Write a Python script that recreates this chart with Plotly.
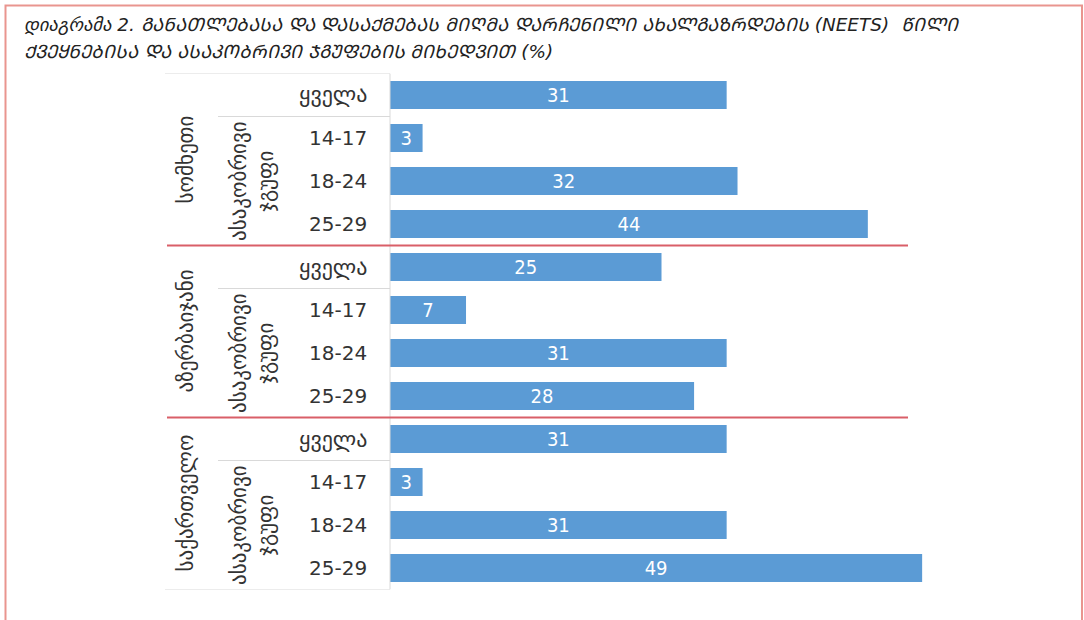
import plotly.graph_objects as go

countries = ["სომხეთი", "აზერბაიჯანი", "საქართველო"]
row_labels = ["ყველა", "14-17", "18-24", "25-29"]
age_group_label = "ასაკობრივი<br>ჯგუფი"
values_armenia = [31, 3, 32, 44]
values_azerbaijan = [25, 7, 31, 28]
values_georgia = [31, 3, 31, 49]
title_lines = ["დიაგრამა 2. ᲒᲐᲜᲐᲗᲚᲔᲑᲐᲡᲐ ᲓᲐ ᲓᲐᲡᲐᲥᲛᲔᲑᲐᲡ ᲛᲘᲦᲛᲐ ᲓᲐᲠᲩᲔᲜᲘᲚᲘ ᲐᲮᲐᲚᲒᲐᲖᲠᲓᲔᲑᲘᲡ (NEETS)  ᲬᲘᲚᲘ",
               "ᲥᲕᲔᲧᲜᲔᲑᲘᲡᲐ ᲓᲐ ᲐᲡᲐᲙᲝᲑᲠᲘᲕᲘ ᲯᲒᲣᲤᲔᲑᲘᲡ ᲛᲘᲮᲔᲓᲕᲘᲗ (%)"]

W, H = 1084, 620
all_values = values_armenia + values_azerbaijan + values_georgia
ypos = list(range(len(all_values)))

BLUE = "#5B9BD5"
RED = "#D95F68"
GREY = "#D9D9D9"
TXT = "#333333"
FONT = "DejaVu Sans"

def px(x):
    return x / W

def py(y):
    return 1 - y / H

fig = go.Figure()
fig.add_trace(go.Bar(
    x=all_values, y=ypos, orientation="h",
    marker=dict(color=BLUE, line=dict(width=0)),
    text=[str(v) for v in all_values],
    textposition="inside", insidetextanchor="middle", textangle=0,
    textfont=dict(color="white", size=20, family="DejaVu Sans Condensed, Roboto, sans-serif"),
    constraintext="none",
    hoverinfo="skip",
))

x_left = 390
scale = 10.86
xmax = 60
fig.update_xaxes(domain=[px(x_left), px(x_left + xmax * scale)], range=[0, xmax],
                 visible=False, fixedrange=True)
fig.update_yaxes(domain=[py(589.5), py(73.5)], range=[11.5, -0.5],
                 visible=False, fixedrange=True)

shapes = []
annotations = []

# outer border
shapes.append(dict(type="rect", xref="paper", yref="paper",
                   x0=px(5.5), x1=px(1082), y0=py(640), y1=py(5.5),
                   line=dict(color="#E9958F", width=2)))

# table grid lines
shapes.append(dict(type="line", xref="paper", yref="y", x0=px(165), x1=px(390), y0=-0.5, y1=-0.5,
                   line=dict(color=GREY, width=1)))
shapes.append(dict(type="line", xref="paper", yref="y", x0=px(165), x1=px(390), y0=11.5, y1=11.5,
                   line=dict(color=GREY, width=1)))
shapes.append(dict(type="line", xref="paper", yref="y", x0=px(390), x1=px(390), y0=-0.5, y1=11.5,
                   line=dict(color=GREY, width=1)))
for g in range(len(countries)):
    base = g * 4
    shapes.append(dict(type="line", xref="paper", yref="y", x0=px(218), x1=px(390),
                       y0=base + 0.5, y1=base + 0.5, line=dict(color=GREY, width=1)))
    if g > 0:
        shapes.append(dict(type="line", xref="paper", yref="y", x0=px(167), x1=px(908),
                           y0=base - 0.5, y1=base - 0.5, line=dict(color=RED, width=2)))
    annotations.append(dict(text=countries[g], xref="paper", yref="y",
                            x=px(185), y=base + 1.5, textangle=-90, showarrow=False,
                            xanchor="center", yanchor="middle",
                            font=dict(size=21, color=TXT, family=FONT)))
    annotations.append(dict(text=age_group_label, xref="paper", yref="y",
                            x=px(252), y=base + 2, textangle=-90, showarrow=False,
                            xanchor="center", yanchor="middle",
                            font=dict(size=21, color=TXT, family=FONT)))
    for i, lab in enumerate(row_labels):
        annotations.append(dict(text=lab, xref="paper", yref="y",
                                x=px(369), y=base + i, showarrow=False,
                                xanchor="right", yanchor="middle",
                                font=dict(size=20 if i else 22, color=TXT, family=FONT)))

for k, line in enumerate(title_lines):
    annotations.append(dict(text="<i>" + line + "</i>", xref="paper", yref="paper",
                            x=px(22), y=py(25 + 27 * k), xanchor="left", yanchor="middle",
                            align="left", showarrow=False,
                            font=dict(size=18.4, color="#222222", family=FONT)))

fig.update_layout(
    width=W, height=H,
    margin=dict(l=0, r=0, t=0, b=0),
    paper_bgcolor="white", plot_bgcolor="white",
    showlegend=False,
    bargap=0.35,
    shapes=shapes, annotations=annotations,
)

fig.write_html("out.html", config={"displayModeBar": False},
               post_script="document.body.style.margin='0';document.body.style.overflow='hidden';")
